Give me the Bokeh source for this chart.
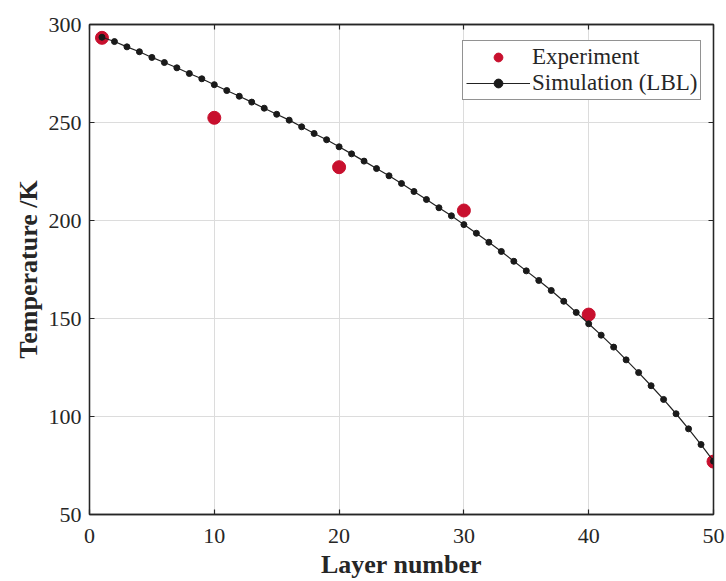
from bokeh.plotting import figure
from bokeh.models import LinearAxis, Legend, LegendItem, FixedTicker, Range1d
from bokeh.embed import file_html
from bokeh.resources import INLINE

# ---- data ----
layers = list(range(1, 51))
sim_temp = [293.5, 291.3, 288.6, 286.1, 283.2, 280.6, 277.9, 275.0, 272.3, 269.3,
            266.3, 263.4, 260.4, 257.3, 254.2, 251.2, 247.8, 244.4, 241.2, 237.6,
            234.0, 230.3, 226.5, 222.8, 218.9, 214.8, 210.7, 206.5, 202.4, 197.9,
            193.5, 188.9, 184.2, 179.2, 174.3, 169.4, 164.3, 158.8, 153.1, 147.3,
            141.5, 135.4, 128.9, 122.4, 115.7, 108.7, 101.4, 93.7, 85.7, 77.2]
exp_layers = [1, 10, 20, 30, 40, 50]
exp_temp = [293.2, 252.4, 227.2, 205.1, 152.0, 77.0]
x_ticks = [0, 10, 20, 30, 40, 50]
y_ticks = [50, 100, 150, 200, 250, 300]

FONT = "Liberation Serif"
INK = "#262626"
RED = "#C8102E"

W, H = 726, 581
p = figure(width=W, height=H, output_backend="svg", toolbar_location=None,
           x_range=Range1d(0, 50), y_range=Range1d(50, 300),
           min_border_left=89, min_border_right=W - 713, min_border_top=24,
           min_border_bottom=H - 514)
p.background_fill_color = "white"
p.border_fill_color = "white"
p.outline_line_color = INK
p.outline_line_width = 1.3

# grid
p.xgrid.ticker = FixedTicker(ticks=x_ticks)
p.ygrid.ticker = FixedTicker(ticks=y_ticks)
for g in (p.xgrid[0], p.ygrid[0]):
    g.grid_line_color = "#dcdcdc"
    g.grid_line_width = 1

def style_axis(ax, ticks, show_labels=True):
    ax.ticker = FixedTicker(ticks=ticks)
    ax.axis_line_color = INK
    ax.axis_line_width = 1.3
    ax.major_tick_line_color = INK
    ax.major_tick_line_width = 1.2
    ax.major_tick_in = 5
    ax.major_tick_out = 0
    ax.minor_tick_line_color = None
    ax.major_label_text_font = FONT
    ax.major_label_text_color = INK
    ax.major_label_text_font_size = "22px"
    if not show_labels:
        ax.major_label_overrides = {t: "" for t in ticks}
        ax.major_label_standoff = 0
    ax.axis_label_text_font = FONT
    ax.axis_label_text_font_style = "bold"
    ax.axis_label_text_color = INK
    ax.axis_label_text_font_size = "26px"

xa = p.xaxis[0]
ya = p.yaxis[0]
style_axis(xa, x_ticks)
style_axis(ya, y_ticks)
xa.axis_label = "Layer number"
ya.axis_label = "Temperature /K"
xa.major_label_standoff = 14
xa.axis_label_standoff = 4
ya.major_label_standoff = 8
ya.axis_label_standoff = 3

top = LinearAxis()
style_axis(top, x_ticks, show_labels=False)
p.add_layout(top, "above")
right = LinearAxis()
style_axis(right, y_ticks, show_labels=False)
p.add_layout(right, "right")

# data
r_exp = p.scatter(exp_layers, exp_temp, size=13, marker="circle",
                  fill_color=RED, line_color=RED)
r_line = p.line(layers, sim_temp, line_color="#222222", line_width=1.2)
r_dots = p.scatter(layers, sim_temp, size=6, marker="circle",
                   fill_color="#1a1a1a", line_color="#1a1a1a")

legend = Legend(items=[LegendItem(label="Experiment", renderers=[r_exp]),
                       LegendItem(label="Simulation (LBL)", renderers=[r_line, r_dots])],
                location=(373, 414))
legend.label_text_font = FONT
legend.label_text_font_size = "23px"
legend.label_text_color = INK
legend.border_line_color = INK
legend.border_line_width = 1
legend.background_fill_alpha = 1
legend.glyph_width = 64
legend.glyph_height = 22
legend.label_height = 22
legend.label_standoff = 2
legend.spacing = 0
legend.padding = 3
legend.margin = 0
p.add_layout(legend, "center")

open("out.html", "w").write(file_html(p, INLINE))
